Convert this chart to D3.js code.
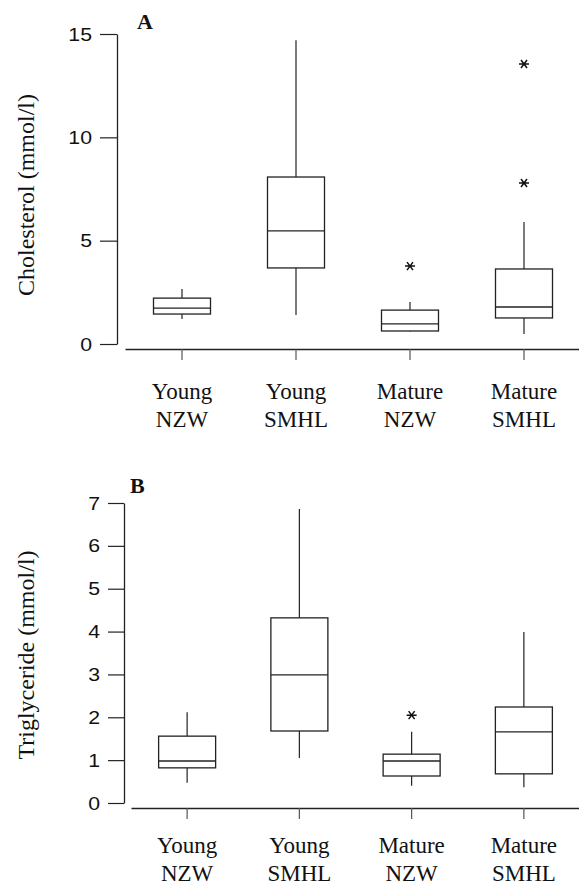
<!DOCTYPE html>
<html>
<head>
<meta charset="utf-8">
<script src="https://cdn.jsdelivr.net/npm/d3@7"></script>
<style>
body { margin: 0; background: #fff; }
.serif { font-family: "Liberation Serif", "Times New Roman", Times, serif; }
.sans { font-family: "Liberation Sans", Arial, Helvetica, sans-serif; }
</style>
</head>
<body>
<div class="chart"></div>
<script>
const groupLine1 = ["Young", "Young", "Mature", "Mature"];
const groupLine2 = ["NZW", "SMHL", "NZW", "SMHL"];
const groups = ["Young NZW", "Young SMHL", "Mature NZW", "Mature SMHL"];

// panel A - cholesterol (mmol/l)
const cholLow  = [1.21, 1.40, 0.60, 0.48];
const cholQ1   = [1.45, 3.68, 0.63, 1.26];
const cholMed  = [1.74, 5.47, 0.97, 1.79];
const cholQ3   = [2.22, 8.08, 1.64, 3.63];
const cholHigh = [2.66, 14.7, 2.03, 5.90];
const cholOut  = [[], [], [3.77], [7.79, 13.55]];
const cholTicks = [0, 5, 10, 15];

// panel B - triglyceride (mmol/l)
const trigLow  = [0.47, 1.05, 0.40, 0.37];
const trigQ1   = [0.82, 1.68, 0.63, 0.68];
const trigMed  = [0.98, 2.99, 0.98, 1.66];
const trigQ3   = [1.56, 4.32, 1.14, 2.24];
const trigHigh = [2.12, 6.86, 1.66, 3.99];
const trigOut  = [[], [], [2.05], []];
const trigTicks = [0, 1, 2, 3, 4, 5, 6, 7];

const ink = "#222";

var svg = d3.select(".chart").append("svg")
    .attr("width", 579)
    .attr("height", 885);

function drawPanel(p) {
    var g = svg.append("g");
    var yScale = d3.scaleLinear().domain([0, p.ticks[p.ticks.length - 1]]).range(p.yRange);
    var xScale = d3.scaleBand().domain(groups).range(p.xRange).padding(0);
    var bw = 57;
    var cx = function(i) { return xScale(groups[i]) + xScale.bandwidth() / 2; };

    // y axis
    var yAxis = d3.axisLeft(yScale).tickValues(p.ticks).tickFormat(d3.format("d"))
        .tickSize(p.tickLen).tickSizeOuter(0).tickPadding(8);
    var ya = g.append("g").attr("transform", `translate(${p.yAxisX},0)`).call(yAxis);
    ya.attr("font-family", null).attr("font-size", null);
    ya.select(".domain").attr("stroke", ink).attr("stroke-width", 1.3);
    ya.selectAll(".tick line").attr("stroke", ink).attr("stroke-width", 1.2);
    ya.selectAll(".tick text")
        .attr("class", "sans")
        .attr("font-size", 19)
        .attr("transform", "scale(1.12,1)")
        .attr("x", -(p.tickLen + 8) / 1.12)
        .attr("fill", "#111");

    // x axis
    var xAxis = d3.axisBottom(xScale).tickSize(11).tickSizeOuter(0).tickFormat("");
    var xa = g.append("g").attr("transform", `translate(0,${p.xAxisY})`).call(xAxis);
    xa.select(".domain").attr("stroke", ink).attr("stroke-width", 1.3);
    xa.selectAll(".tick line").attr("stroke", "#555").attr("stroke-width", 1.2);

    // category labels, two lines
    var lab = g.selectAll(".catlab").data(groups).enter().append("text")
        .attr("class", "catlab serif")
        .attr("text-anchor", "middle")
        .attr("font-size", 23)
        .attr("fill", "#111");
    lab.append("tspan").attr("x", (d, i) => cx(i)).attr("y", p.labY).text((d, i) => groupLine1[i]);
    lab.append("tspan").attr("x", (d, i) => cx(i)).attr("y", p.labY + 28).text((d, i) => groupLine2[i]);

    // whiskers
    for (let i = 0; i < groups.length; i++) {
        g.append("line")
            .attr("x1", cx(i)).attr("x2", cx(i))
            .attr("y1", yScale(p.q3[i])).attr("y2", yScale(p.high[i]))
            .attr("stroke", ink).attr("stroke-width", 1.2);
        g.append("line")
            .attr("x1", cx(i)).attr("x2", cx(i))
            .attr("y1", yScale(p.q1[i])).attr("y2", yScale(p.low[i]))
            .attr("stroke", ink).attr("stroke-width", 1.2);
    }

    // boxes
    g.selectAll(".box").data(groups).enter().append("rect")
        .attr("class", "box")
        .attr("x", (d, i) => cx(i) - bw / 2)
        .attr("y", (d, i) => yScale(p.q3[i]))
        .attr("width", bw)
        .attr("height", (d, i) => yScale(p.q1[i]) - yScale(p.q3[i]))
        .attr("fill", "none")
        .attr("stroke", ink)
        .attr("stroke-width", 1.3);

    // medians
    g.selectAll(".med").data(groups).enter().append("line")
        .attr("class", "med")
        .attr("x1", (d, i) => cx(i) - bw / 2)
        .attr("x2", (d, i) => cx(i) + bw / 2)
        .attr("y1", (d, i) => yScale(p.med[i]))
        .attr("y2", (d, i) => yScale(p.med[i]))
        .attr("stroke", ink)
        .attr("stroke-width", 1.3);

    // outliers as asterisks
    var r = 5;
    p.out.forEach(function(vals, i) {
        vals.forEach(function(v) {
            var x = cx(i), y = yScale(v);
            var path = `M${x - r},${y}L${x + r},${y}` +
                `M${x - r * 0.6},${y - r * 0.8}L${x + r * 0.6},${y + r * 0.8}` +
                `M${x - r * 0.6},${y + r * 0.8}L${x + r * 0.6},${y - r * 0.8}`;
            g.append("path").attr("d", path).attr("stroke", "#111").attr("stroke-width", 1.5);
        });
    });

    // panel letter
    g.append("text")
        .attr("class", "serif")
        .attr("x", p.letterPos[0]).attr("y", p.letterPos[1])
        .attr("font-weight", "bold").attr("font-size", 22)
        .attr("fill", "#111")
        .text(p.letter);

    // y label
    g.append("text")
        .attr("class", "serif")
        .attr("transform", `translate(${p.yLabPos[0]},${p.yLabPos[1]}) rotate(-90)`)
        .attr("text-anchor", "middle")
        .attr("font-size", 24)
        .attr("fill", "#111")
        .text(p.yLabel);
}

drawPanel({
    ticks: cholTicks, yRange: [344, 34], xRange: [125, 581],
    yAxisX: 117, xAxisY: 349, tickLen: 17, labY: 399,
    low: cholLow, q1: cholQ1, med: cholMed, q3: cholQ3, high: cholHigh, out: cholOut,
    letter: "A", letterPos: [137, 29],
    yLabel: "Cholesterol (mmol/l)", yLabPos: [34, 195]
});

drawPanel({
    ticks: trigTicks, yRange: [803, 503], xRange: [131, 580],
    yAxisX: 124, xAxisY: 808, tickLen: 16, labY: 853,
    low: trigLow, q1: trigQ1, med: trigMed, q3: trigQ3, high: trigHigh, out: trigOut,
    letter: "B", letterPos: [130, 493],
    yLabel: "Triglyceride (mmol/l)", yLabPos: [34, 655]
});
</script>
</body>
</html>
